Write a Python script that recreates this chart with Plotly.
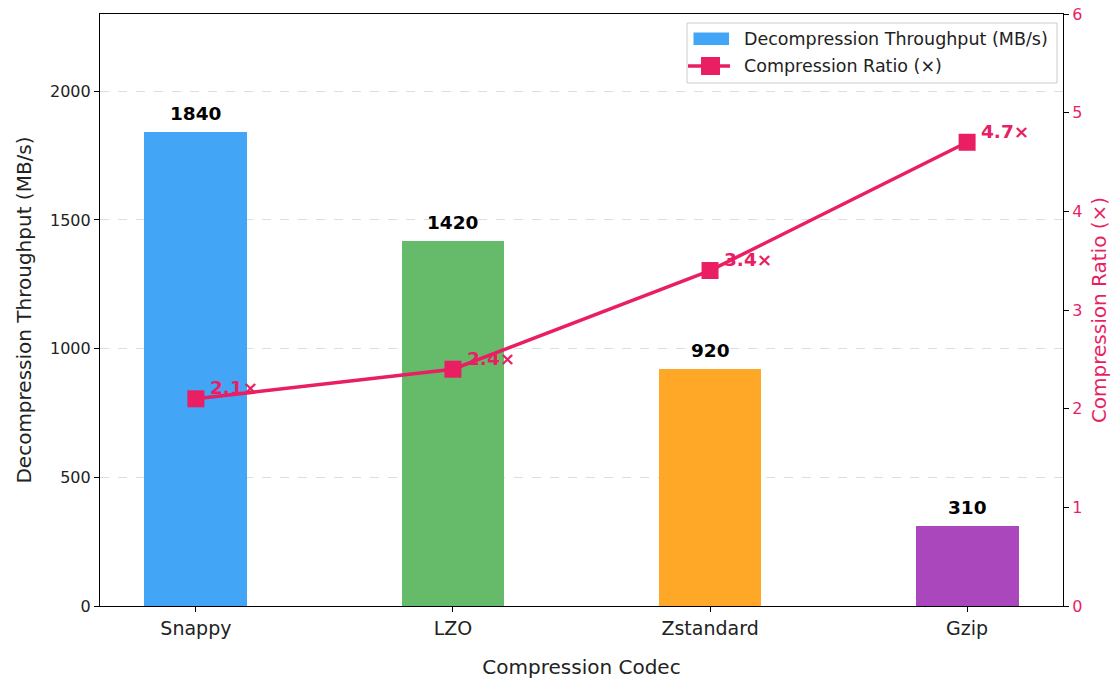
import plotly.graph_objects as go

# Codec benchmark data
codecs = ["Snappy", "LZO", "Zstandard", "Gzip"]
throughput_mbs = [1840, 1420, 920, 310]
compression_ratio = [2.1, 2.4, 3.4, 4.7]
bar_colors = ["#42a5f5", "#66bb6a", "#ffa726", "#ab47bc"]
ratio_color = "#e91e63"
ratio_labels = [f"{r}×" for r in compression_ratio]
throughput_labels = [str(v) for v in throughput_mbs]

FONT = "DejaVu Sans"
x_pos = list(range(len(codecs)))

fig = go.Figure()

fig.add_trace(go.Bar(
    x=x_pos, y=throughput_mbs, width=0.4,
    marker=dict(color=bar_colors, line=dict(width=0)),
    name="Decompression Throughput (MB/s)",
    showlegend=False,
))

fig.add_trace(go.Scatter(
    x=x_pos, y=compression_ratio, yaxis="y2",
    mode="lines+markers",
    line=dict(color=ratio_color, width=3.5),
    marker=dict(symbol="square", size=17, color=ratio_color),
    name="Compression Ratio (×)",
    showlegend=False,
))

annotations = []
for xi, v, lab in zip(x_pos, throughput_mbs, throughput_labels):
    annotations.append(dict(
        x=xi, y=v, xref="x", yref="y", text=f"<b>{lab}</b>",
        showarrow=False, yanchor="bottom", yshift=6,
        font=dict(family=FONT, size=18.5, color="black"),
    ))
for xi, r, lab in zip(x_pos, compression_ratio, ratio_labels):
    annotations.append(dict(
        x=xi, y=r, xref="x", yref="y2", text=f"<b>{lab}</b>",
        showarrow=False, xanchor="left", yanchor="middle",
        xshift=12, yshift=11,
        font=dict(family=FONT, size=18.5, color=ratio_color),
    ))

# Legend box drawn in paper space: frame, bar swatch, line+marker swatch
shapes = [
    dict(type="rect", xref="paper", yref="paper", x0=0.6096, x1=0.9938, y0=0.8834, y1=0.9848,
         line=dict(color="#cccccc", width=1), fillcolor="rgba(255,255,255,0.85)", layer="above"),
    dict(type="rect", xref="paper", yref="paper", x0=0.6163, x1=0.6532, y0=0.9476, y1=0.9688,
         line=dict(width=0), fillcolor=bar_colors[0], layer="above"),
    dict(type="line", xref="paper", yref="paper", x0=0.6106, x1=0.6542, y0=0.9122, y1=0.9122,
         line=dict(color=ratio_color, width=3.5), layer="above"),
    dict(type="rect", xref="paper", yref="paper", x0=0.6241, x1=0.6438, y0=0.8970, y1=0.9274,
         line=dict(width=0), fillcolor=ratio_color, layer="above"),
]
for yy, label in [(0.9578, "Decompression Throughput (MB/s)"), (0.9122, "Compression Ratio (×)")]:
    annotations.append(dict(
        x=0.6667, y=yy, xref="paper", yref="paper", text=label,
        showarrow=False, xanchor="left", yanchor="middle",
        font=dict(family=FONT, size=17.5, color="#222222"),
    ))

fig.update_layout(
    width=1116, height=684,
    margin=dict(l=100, r=53, t=14, b=78),
    plot_bgcolor="white", paper_bgcolor="white",
    font=dict(family=FONT, color="#222222"),
    bargap=0, showlegend=False,
    annotations=annotations, shapes=shapes,
    xaxis=dict(
        range=[-0.373, 3.373],
        tickmode="array", tickvals=x_pos, ticktext=codecs,
        tickfont=dict(size=19, color="#222222"),
        ticks="outside", ticklen=5, tickcolor="black",
        showline=True, linecolor="black", linewidth=1.2, mirror=True,
        showgrid=False, zeroline=False, automargin=False,
        title=dict(text="Compression Codec", font=dict(size=20, color="#222222"), standoff=22),
    ),
    yaxis=dict(
        range=[0, 2300],
        tickvals=[0, 500, 1000, 1500, 2000],
        tickfont=dict(size=16, color="#222222"),
        ticks="outside", ticklen=5, tickcolor="black",
        showline=True, linecolor="black", linewidth=1.2, mirror=True,
        showgrid=True, gridcolor="#dddddd", griddash="dash", gridwidth=1,
        zeroline=False, automargin=False,
        title=dict(text="Decompression Throughput (MB/s)", font=dict(size=20, color="#222222"), standoff=12),
    ),
    yaxis2=dict(
        overlaying="y", side="right",
        range=[0, 6],
        tickvals=[0, 1, 2, 3, 4, 5, 6],
        tickfont=dict(size=16, color=ratio_color),
        ticks="outside", ticklen=5, tickcolor="black",
        showline=True, linecolor="black", linewidth=1.2,
        showgrid=False, zeroline=False, automargin=False,
        title=dict(text="Compression Ratio (×)", font=dict(size=20, color=ratio_color), standoff=10),
    ),
)

fig.write_html("out.html")
